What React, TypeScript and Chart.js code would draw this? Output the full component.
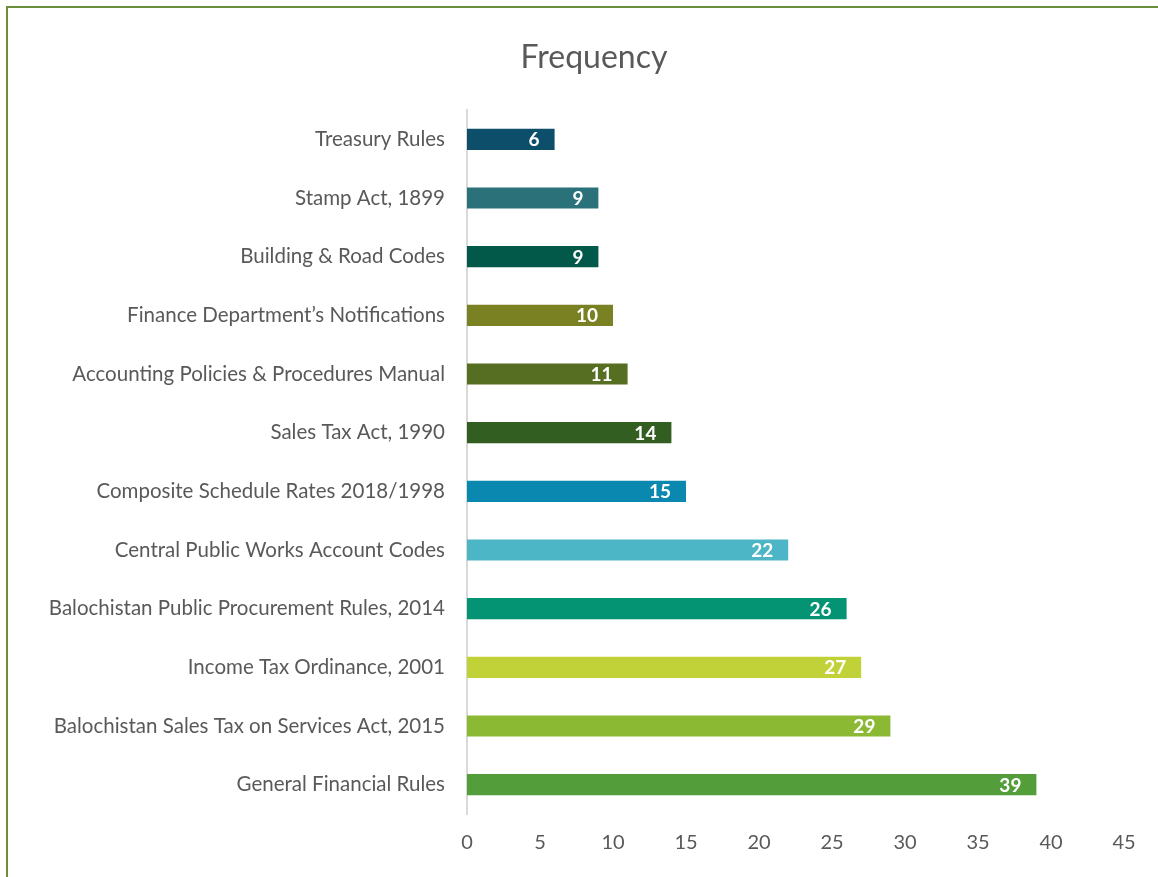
import React, { useEffect, useRef } from "react";
import { Chart, registerables } from "chart.js";

Chart.register(...registerables);

const categories = [
  "Treasury Rules",
  "Stamp Act, 1899",
  "Building & Road Codes",
  "Finance Department’s Notifications",
  "Accounting Policies & Procedures Manual",
  "Sales Tax Act, 1990",
  "Composite Schedule Rates 2018/1998",
  "Central Public Works Account Codes",
  "Balochistan Public Procurement Rules, 2014",
  "Income Tax Ordinance, 2001",
  "Balochistan Sales Tax on Services Act, 2015",
  "General Financial Rules",
];

const frequency = [6, 9, 9, 10, 11, 14, 15, 22, 26, 27, 29, 39];

const barColors = [
  "#0d4f6b",
  "#2a717a",
  "#02594a",
  "#7a8122",
  "#566e22",
  "#325e22",
  "#0a88b0",
  "#4cb5c6",
  "#049474",
  "#c1d138",
  "#8cb934",
  "#539e3a",
];

const xTicks = [0, 5, 10, 15, 20, 25, 30, 35, 40, 45];

const chartTitle = "Frequency";

const FONT = "Lato, 'Open Sans', sans-serif";

const labelPlugin = {
  id: "insideEndLabels",
  afterDatasetsDraw(chart: any) {
    const ctx = chart.ctx;
    const meta = chart.getDatasetMeta(0);
    ctx.save();
    ctx.fillStyle = "#ffffff";
    ctx.font = `bold 19px ${FONT}`;
    ctx.textAlign = "right";
    ctx.textBaseline = "middle";
    meta.data.forEach((el: any, i: number) => {
      ctx.fillText(String(frequency[i]), el.x - 15, el.y + 1);
    });
    ctx.restore();
  },
};

const titlePlugin = {
  id: "offsetTitle",
  afterDraw(chart: any) {
    const ctx = chart.ctx;
    ctx.save();
    ctx.fillStyle = "#595959";
    ctx.font = `32px ${FONT}`;
    ctx.textAlign = "center";
    ctx.textBaseline = "middle";
    ctx.fillText(chartTitle, 594, 58);
    ctx.restore();
  },
};

export default function App() {
  const ref = useRef<HTMLCanvasElement | null>(null);

  useEffect(() => {
    if (!ref.current) return;
    const chart = new Chart(ref.current, {
      type: "bar",
      data: {
        labels: categories,
        datasets: [
          {
            label: chartTitle,
            data: frequency,
            backgroundColor: barColors,
            borderWidth: 0,
            barPercentage: 0.36,
            categoryPercentage: 1,
          },
        ],
      },
      options: {
        indexAxis: "y",
        animation: false,
        responsive: false,
        maintainAspectRatio: false,
        layout: { padding: { left: 0, right: 34, top: 110, bottom: 0 } },
        plugins: {
          legend: { display: false },
          tooltip: { enabled: false },
          title: { display: false },
        },
        scales: {
          x: {
            min: 0,
            max: 45,
            afterBuildTicks: (scale: any) => {
              scale.ticks = xTicks.map((v) => ({ value: v }));
            },
            afterFit: (scale: any) => {
              scale.height = 63;
            },
            grid: { display: false, drawTicks: false },
            border: { display: false },
            ticks: {
              color: "#595959",
              padding: 17,
              font: { family: FONT, size: 20 },
            },
          },
          y: {
            afterFit: (scale: any) => {
              scale.width = 467;
            },
            grid: { display: false, drawTicks: false },
            border: { display: true, color: "#d9d9d9", width: 2 },
            ticks: {
              color: "#595959",
              padding: 22,
              font: { family: FONT, size: 20.5 },
            },
          },
        },
      },
      plugins: [labelPlugin, titlePlugin],
    });
    return () => chart.destroy();
  }, []);

  return (
    <div
      style={{
        position: "fixed",
        left: 0,
        top: 0,
        width: 1158,
        height: 877,
        overflow: "hidden",
        background: "#ffffff",
      }}
    >
      <canvas ref={ref} width={1158} height={877} style={{ position: "absolute", left: 0, top: 0 }} />
      <div
        style={{
          position: "absolute",
          left: 6,
          top: 6,
          width: 3000,
          height: 3000,
          borderTop: "2px solid #6b8e3a",
          borderLeft: "2px solid #6b8e3a",
          pointerEvents: "none",
        }}
      />
    </div>
  );
}
